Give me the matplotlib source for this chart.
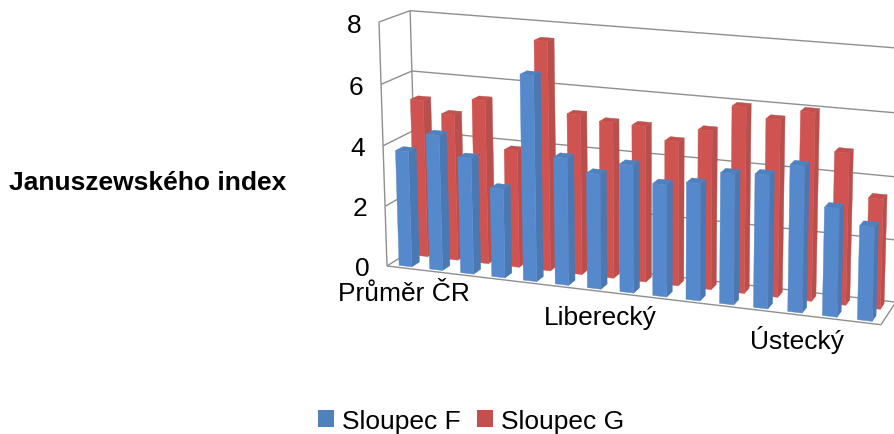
import numpy as np
import matplotlib
matplotlib.use("Agg")
import matplotlib.pyplot as plt
from matplotlib.patches import Patch
from mpl_toolkits.mplot3d import proj3d
from mpl_toolkits.mplot3d.art3d import Poly3DCollection, Line3DCollection

plt.rcParams['font.family'] = ['Liberation Sans', 'DejaVu Sans']

# Data
categories = ["Průměr ČR", "Hl. m. Praha", "Jihočeský", "Jihomoravský", "Karlovarský",
              "Královéhradecký", "Liberecký", "Moravskoslezský", "Olomoucký", "Pardubický",
              "Plzeňský", "Středočeský", "Ústecký", "Vysočina", "Zlínský"]
sloupec_f = [3.83, 4.47, 3.82, 2.92, 6.67, 4.13, 3.72, 4.11, 3.60, 3.74, 4.15, 4.22, 4.61, 3.40, 2.94]
sloupec_g = [5.26, 4.87, 5.44, 3.88, 7.53, 5.25, 5.10, 5.08, 4.68, 5.13, 5.97, 5.67, 6.00, 4.83, 3.49]
y_ticks = [0, 2, 4, 6, 8]

W, H = 895, 435
GRID = "#8f8f8f"
BLUE = {"front": "#5589cc", "side": "#4a78b2", "top": "#4f81bd"}
RED = {"front": "#cf5451", "side": "#b94f4c", "top": "#c2504d"}


def camera_matrix():
    # vanishing points of the three chart directions (pixels, y down)
    vp_cat = np.array([-5705, -457, 1.0]) * -0.0050
    vp_depth = np.array([1302, -313, 1.0]) * 0.0339
    vp_val = np.array([657, 8500, 1.0]) * -0.003598
    origin = np.array([387, 267, 1.0])
    cols = np.column_stack([vp_cat, vp_depth, vp_val, origin])
    return np.array([
        cols[0],
        H * cols[2] - cols[1],
        [0, 1, 0, 0],
        cols[2],
    ])


fig = plt.figure(figsize=(W / 100, H / 100), dpi=100)
ax = fig.add_axes([0, 0, 1, W / H], projection="3d", computed_zorder=False)
ax.set_axis_off()
M = camera_matrix()
ax.get_proj = lambda: M

n = len(categories)

# Walls and gridlines
segments = []
for v in y_ticks:
    segments.append([(0, 1, v), (n, 1, v)])
    segments.append([(0, 0, v), (0, 1, v)])
segments.append([(0, 1, 0), (0, 1, 8)])
segments.append([(0, 0, 0), (0, 0, 8)])
segments.append([(0, 0, 0), (n, 0, 0)])
segments.append([(n, 0, 0), (n, 1, 0)])
ax.add_collection3d(Line3DCollection(segments, colors=GRID, linewidths=1.0, zorder=1), autolim=False)


def add_bar(i, value, d0, d1, colors, z):
    x0, x1 = i + 0.27, i + 0.69
    front = [(x0, d0, 0), (x1, d0, 0), (x1, d0, value), (x0, d0, value)]
    side = [(x1, d0, 0), (x1, d1, 0), (x1, d1, value), (x1, d0, value)]
    top = [(x0, d0, value), (x1, d0, value), (x1, d1, value), (x0, d1, value)]
    for k, (verts, name) in enumerate([(side, "side"), (top, "top"), (front, "front")]):
        poly = Poly3DCollection([verts], facecolors=colors[name], edgecolors=colors[name],
                                linewidths=0.3, zorder=z + k * 0.1)
        ax.add_collection3d(poly, autolim=False)


for i, v in enumerate(sloupec_g):
    add_bar(i, v, 0.64, 0.89, RED, 2 + i)
for i, v in enumerate(sloupec_f):
    add_bar(i, v, 0.11, 0.36, BLUE, 30 + i)


def chart_text(x, y, z, s, **kw):
    # put a label at a chart position, as plain figure text
    xp, yp, _ = proj3d.proj_transform(x, y, z, M)
    fig.text(xp / W, yp / H, s, fontsize=19, color="black", va="center", **kw)


# Tick labels
for v in y_ticks:
    chart_text(-0.58, 0, v - 0.13, str(v), ha="right")
label_pos = {0: (0.53, -0.85), 6: (6.75, -0.85), 12: (12.62, -0.78)}
for i, name in enumerate(categories):
    if i in label_pos:
        chart_text(label_pos[i][0], 0, label_pos[i][1], name, ha="center")

fig.text(9 / W, 1 - 183 / H, "Januszewského index", fontsize=19, fontweight="bold", va="center", ha="left")

handles = [Patch(facecolor=BLUE["top"], label="Sloupec F"), Patch(facecolor=RED["top"], label="Sloupec G")]
fig.legend(handles=handles, ncol=2, loc="center", bbox_to_anchor=(471 / W, 1 - 422 / H), frameon=False,
           fontsize=19, handlelength=0.6, handleheight=0.6, handletextpad=0.3, columnspacing=0.64, borderpad=0)

# pixel coordinates straight from the camera matrix
ax.viewLim.intervalx = (0, W)
ax.viewLim.intervaly = (0, W)

fig.savefig("out.png", dpi=100)
